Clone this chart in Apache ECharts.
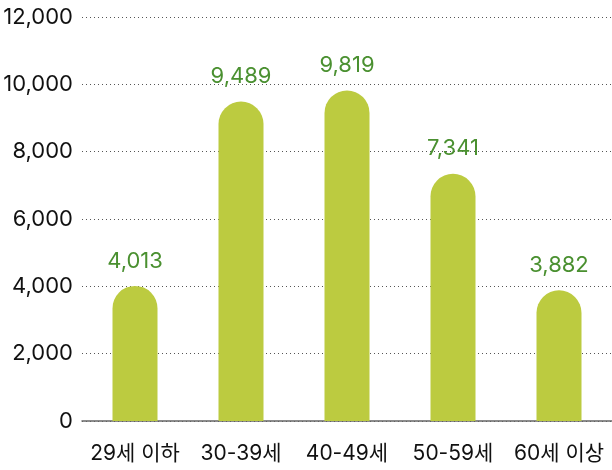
<!DOCTYPE html>
<html>
<head>
<meta charset="utf-8">
<script src="https://cdn.jsdelivr.net/npm/echarts@6/dist/echarts.min.js"></script>
<style>
html, body { margin: 0; padding: 0; background: #fff; }
#chart { width: 612px; height: 470px; }
</style>
</head>
<body>
<div id="chart"></div>
<script>
var categories = ['29세 이하', '30-39세', '40-49세', '50-59세', '60세 이상'];
var values = [4013, 9489, 9819, 7341, 3882];

var myChart = echarts.init(document.getElementById('chart'));
var font = "Inter, 'Noto Sans CJK KR', sans-serif";

option = {
    animation: false,
    backgroundColor: '#fff',
    grid: {
        left: 82,
        right: 0,
        top: 17,
        bottom: 49
    },
    xAxis: {
        type: 'category',
        data: categories,
        axisLine: { lineStyle: { color: '#666', width: 1.5 } },
        axisTick: { show: false },
        axisLabel: {
            interval: 0,
            color: '#111',
            fontSize: 21,
            fontFamily: font,
            margin: 22
        }
    },
    yAxis: {
        type: 'value',
        min: 0,
        max: 12000,
        interval: 2000,
        axisLine: { show: false },
        axisTick: { show: false },
        splitLine: {
            lineStyle: { color: '#555', type: [1, 3], width: 1 }
        },
        axisLabel: {
            color: '#111',
            fontSize: 22,
            fontFamily: font,
            margin: 9,
            formatter: function (v) { return v.toLocaleString('en-US'); }
        }
    },
    series: [{
        type: 'bar',
        data: values,
        barWidth: 45,
        itemStyle: {
            color: '#bccb40',
            borderRadius: [23, 23, 0, 0]
        },
        label: {
            show: true,
            position: 'top',
            distance: 14,
            color: '#4a9030',
            fontSize: 22,
            fontFamily: font,
            formatter: function (p) { return p.value.toLocaleString('en-US'); }
        }
    }]
};
myChart.setOption(option);
</script>
</body>
</html>
